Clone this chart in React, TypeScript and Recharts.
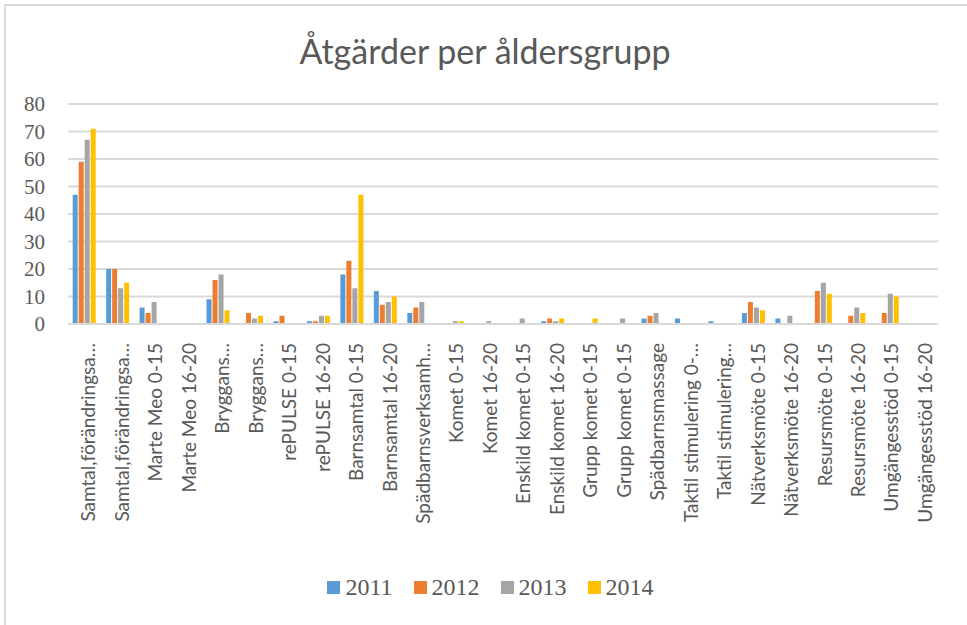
import { BarChart, Bar, XAxis, YAxis, CartesianGrid, Legend } from "recharts";

const categories = [
    "Samtal,förändringsa…", "Samtal,förändringsa…", "Marte Meo 0-15", "Marte Meo 16-20",
    "Bryggans…", "Bryggans…", "rePULSE 0-15", "rePULSE 16-20",
    "Barnsamtal 0-15", "Barnsamtal 16-20", "Spädbarnsverksamh…", "Komet 0-15",
    "Komet 16-20", "Enskild komet 0-15", "Enskild komet 16-20", "Grupp komet 0-15",
    "Grupp komet 0-15", "Spädbarnsmassage", "Taktil stimulering 0-…", "Taktil stimulering…",
    "Nätverksmöte 0-15", "Nätverksmöte 16-20", "Resursmöte 0-15", "Resursmöte 16-20",
    "Umgängesstöd 0-15", "Umgängesstöd 16-20",
];

const v2011 = [47, 20, 6, 0, 9, 0, 1, 1, 18, 12, 4, 0, 0, 0, 1, 0, 0, 2, 2, 1, 4, 2, 0, 0, 0, 0];
const v2012 = [59, 20, 4, 0, 16, 4, 3, 1, 23, 7, 6, 0, 0, 0, 2, 0, 0, 3, 0, 0, 8, 0, 12, 3, 4, 0];
const v2013 = [67, 13, 8, 0, 18, 2, 0, 3, 13, 8, 8, 1, 1, 2, 1, 0, 2, 4, 0, 0, 6, 3, 15, 6, 11, 0];
const v2014 = [71, 15, 0, 0, 5, 3, 0, 3, 47, 10, 0, 1, 0, 0, 2, 2, 0, 0, 0, 0, 5, 0, 11, 4, 10, 0];

const years = ["2011", "2012", "2013", "2014"];
const yTicks = [0, 10, 20, 30, 40, 50, 60, 70, 80];

const COLORS = ["#5B9BD5", "#ED7D31", "#A5A5A5", "#FFC000"];
const TEXT = "#595959";

const data = categories.map((name, i) => ({
    name,
    "2011": v2011[i],
    "2012": v2012[i],
    "2013": v2013[i],
    "2014": v2014[i],
}));

// rotated category label, reads bottom-to-top like Excel
function CategoryTick({ x, y, payload }: any) {
    return (
        <text
            x={x + 4}
            y={y + 11}
            transform={`rotate(-90, ${x + 4}, ${y + 11})`}
            textAnchor="end"
            dy="0.35em"
            fill={TEXT}
            fontSize={19}
            fontFamily="Lato, sans-serif"
        >
            {payload.value}
        </text>
    );
}

function LegendContent({ payload }: any) {
    return (
        <div style={{ height: 24, display: "flex", justifyContent: "center", alignItems: "center", gap: 21, paddingLeft: 43 }}>
            {(payload || []).map((p: any) => (
                <div key={p.value} style={{ display: "flex", alignItems: "center", gap: 5 }}>
                    <span style={{ width: 13, height: 13, background: p.color, display: "inline-block" }} />
                    <span style={{ fontFamily: "Liberation Serif, serif", fontSize: 24, color: TEXT, lineHeight: "24px" }}>{p.value}</span>
                </div>
            ))}
        </div>
    );
}

export default function App() {
    return (
        <div style={{ position: "absolute", left: 0, top: 0, width: 967, height: 625, background: "#fff", overflow: "hidden" }}>
            <div style={{ position: "absolute", left: 4, top: 4, width: 980, height: 640, border: "2px solid #d9d9d9", boxSizing: "border-box" }} />
            <div style={{ position: "absolute", left: 0, top: 29, width: 970, textAlign: "center", fontFamily: "Lato, sans-serif", fontSize: 34, lineHeight: "44px", color: TEXT }}>
                Åtgärder per åldersgrupp
            </div>
            <BarChart
                width={967}
                height={625}
                data={data}
                margin={{ top: 104, right: 29, left: 0, bottom: 26 }}
                barCategoryGap="14%"
                barGap={1}
                style={{ position: "absolute", left: 0, top: 0 }}
            >
                <CartesianGrid vertical={false} stroke="#d9d9d9" strokeWidth={2} />
                <XAxis
                    dataKey="name"
                    interval={0}
                    height={251}
                    tick={<CategoryTick />}
                    tickLine={false}
                    axisLine={{ stroke: "#d9d9d9", strokeWidth: 2 }}
                />
                <YAxis
                    width={68}
                    domain={[0, 80]}
                    ticks={yTicks}
                    interval={0}
                    axisLine={false}
                    tickLine={false}
                    tickSize={0}
                    tickMargin={23}
                    tick={{ fill: TEXT, fontSize: 21, fontFamily: "Liberation Serif, serif" }}
                />
                <Legend verticalAlign="bottom" content={<LegendContent />} />
                {years.map((y, i) => (
                    <Bar key={y} dataKey={y} fill={COLORS[i]} isAnimationActive={false} />
                ))}
            </BarChart>
        </div>
    );
}
